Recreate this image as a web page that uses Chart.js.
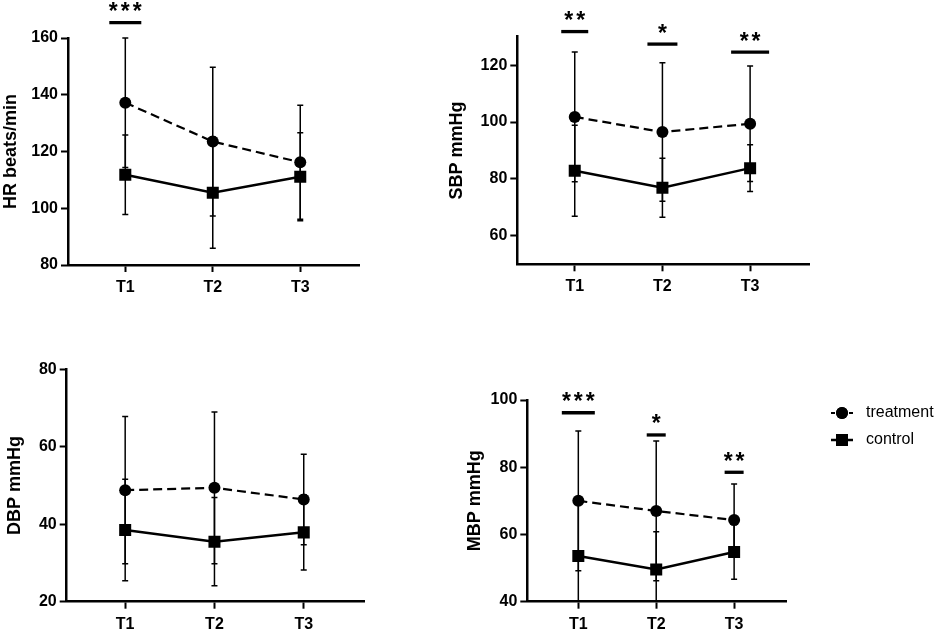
<!DOCTYPE html>
<html>
<head>
<meta charset="utf-8">
<script src="https://cdn.jsdelivr.net/npm/chart.js@4.4.1/dist/chart.umd.min.js"></script>
<style>
  body { margin: 0; background: #fff; }
  #wrap { position: relative; width: 935px; height: 632px; overflow: hidden; }
  canvas { position: absolute; }
</style>
</head>
<body>
<div id="wrap">
  <canvas id="hr"></canvas>
  <canvas id="sbp"></canvas>
  <canvas id="dbp"></canvas>
  <canvas id="mbp"></canvas>
</div>
<script>
// time points and series
const timepoints = ["T1", "T2", "T3"];
const seriesNames = ["treatment", "control"];

// HR beats/min (mean, SD)
const hrTreatment = [137.2, 123.5, 116.2];
const hrTreatmentSD = [22.8, 26.2, 20.1];
const hrControl = [111.8, 105.5, 111.1];
const hrControlSD = [14.0, 19.6, 15.5];
const hrTicks = [80, 100, 120, 140, 160];

// SBP mmHg
const sbpTreatment = [101.8, 96.5, 99.4];
const sbpTreatmentSD = [22.8, 24.3, 20.3];
const sbpControl = [82.9, 76.9, 83.8];
const sbpControlSD = [16.0, 10.4, 8.2];
const sbpTicks = [60, 80, 100, 120];

// DBP mmHg
const dbpTreatment = [48.8, 49.4, 46.4];
const dbpTreatmentSD = [19.0, 19.6, 11.7];
const dbpControl = [38.5, 35.5, 37.9];
const dbpControlSD = [13.1, 11.4, 9.7];
const dbpTicks = [20, 40, 60, 80];

// MBP mmHg
const mbpTreatment = [70.0, 67.0, 64.3];
const mbpTreatmentSD = [20.8, 20.8, 10.7];
const mbpControl = [53.6, 49.6, 54.8];
const mbpControlSD = [16.0, 11.2, 8.1];
const mbpTicks = [40, 60, 80, 100];

// significance marks per time point, and the level (axis units) of the bar
const hrStars = ["***", "", ""];
const hrStarLevel = [165.4, null, null];
const sbpStars = ["**", "*", "**"];
const sbpStarLevel = [131.8, 127.4, 124.6];
const dbpStars = ["", "", ""];
const dbpStarLevel = [null, null, null];
const mbpStars = ["***", "*", "**"];
const mbpStarLevel = [96.2, 89.6, 78.5];

const FONT = "'Liberation Sans', Arial, Helvetica, sans-serif";

const toPoints = vals => vals.map((v, i) => ({ x: i + 1, y: v }));

// error bars drawn through the scales
const errorBars = {
  id: "errorBars",
  beforeDatasetsDraw(chart) {
    const { ctx, chartArea, scales: { x, y } } = chart;
    ctx.save();
    ctx.beginPath();
    ctx.rect(chartArea.left, chartArea.top - 4, chartArea.width, chartArea.height + 4);
    ctx.clip();
    ctx.strokeStyle = "#000";
    ctx.lineWidth = 1.5;
    chart.data.datasets.forEach(ds => {
      ds.data.forEach((p, i) => {
        const sd = ds.errors[i];
        const px = x.getPixelForValue(p.x);
        const top = y.getPixelForValue(p.y + sd);
        const bot = y.getPixelForValue(p.y - sd);
        ctx.beginPath();
        ctx.moveTo(px, top); ctx.lineTo(px, bot);
        ctx.moveTo(px - 3, top); ctx.lineTo(px + 3, top);
        ctx.moveTo(px - 3, bot); ctx.lineTo(px + 3, bot);
        ctx.stroke();
      });
    });
    ctx.restore();
  }
};

// significance bars with asterisks
const sigMarks = {
  id: "sigMarks",
  afterDraw(chart, args, opts) {
    if (!opts.labels) return;
    const { ctx, scales: { x, y } } = chart;
    ctx.save();
    ctx.fillStyle = "#000";
    ctx.strokeStyle = "#000";
    ctx.font = "bold 23px " + FONT;
    ctx.textAlign = "center";
    ctx.textBaseline = "alphabetic";
    ctx.letterSpacing = "3px";
    opts.labels.forEach((lab, i) => {
      if (!lab) return;
      const px = x.getPixelForValue(i + 1);
      const py = y.getPixelForValue(opts.levels[i]);
      const hw = opts.widths[i] / 2;
      ctx.lineWidth = 3.3;
      ctx.beginPath();
      ctx.moveTo(px - hw, py); ctx.lineTo(px + hw, py);
      ctx.stroke();
      ctx.fillText(lab, px + 1.5, py - 3.5);
    });
    ctx.restore();
  }
};

// legend with line + marker, as in the figure
const sideLegend = {
  id: "sideLegend",
  afterDraw(chart, args, opts) {
    if (!opts.show) return;
    const { ctx } = chart;
    ctx.save();
    chart.data.datasets.forEach((ds, i) => {
      const cy = opts.y + i * opts.gap;
      ctx.strokeStyle = "#000";
      ctx.lineWidth = ds.borderWidth;
      ctx.setLineDash(ds.borderDash ? [4, 5] : []);
      ctx.beginPath();
      ctx.moveTo(opts.x, cy); ctx.lineTo(opts.x + 22, cy);
      ctx.stroke();
      ctx.setLineDash([]);
      Chart.helpers.drawPoint(ctx, {
        pointStyle: ds.pointStyle, radius: ds.pointRadius, borderWidth: 0
      }, opts.x + 11, cy);
      ctx.fill();
      ctx.fillStyle = "#000";
      ctx.font = "16px " + FONT;
      ctx.textBaseline = "middle";
      ctx.fillText(ds.label, opts.x + 35, cy);
    });
    ctx.restore();
  }
};

function makePanel(p) {
  const cv = document.getElementById(p.id);
  cv.width = p.w; cv.height = p.h;
  cv.style.left = p.left + "px";
  cv.style.top = p.top + "px";
  const axisGrid = { drawOnChartArea: false, tickLength: 7, tickWidth: 2, tickColor: "#000" };
  const axisBorder = { color: "#000", width: 2.5 };
  return new Chart(cv, {
    type: "line",
    data: {
      datasets: [
        {
          label: seriesNames[0],
          data: toPoints(p.treatment),
          errors: p.treatmentSD,
          borderColor: "#000",
          backgroundColor: "#000",
          borderWidth: 2.2,
          borderDash: [9, 5],
          pointStyle: "circle",
          pointRadius: 6,
          pointBorderWidth: 0,
          pointBackgroundColor: "#000"
        },
        {
          label: seriesNames[1],
          data: toPoints(p.control),
          errors: p.controlSD,
          borderColor: "#000",
          backgroundColor: "#000",
          borderWidth: 2.5,
          pointStyle: "rect",
          pointRadius: 8.5,
          pointBorderWidth: 0,
          pointBackgroundColor: "#000"
        }
      ]
    },
    options: {
      responsive: false,
      animation: false,
      layout: { padding: { left: 0, top: p.padTop, right: p.padRight, bottom: 0 } },
      plugins: {
        legend: { display: false },
        tooltip: { enabled: false },
        sigMarks: { labels: p.stars, levels: p.starLevels, widths: p.starWidths },
        sideLegend: p.legend || { show: false }
      },
      scales: {
        x: {
          type: "linear",
          min: 0.345,
          max: 3.675,
          afterBuildTicks: s => { s.ticks = timepoints.map((_, i) => ({ value: i + 1 })); },
          afterFit: s => { s.height = p.xH; },
          ticks: {
            callback: (v, i) => timepoints[i],
            color: "#000",
            font: { family: FONT, size: 16, weight: "bold" },
            padding: 6,
            maxRotation: 0
          },
          grid: axisGrid,
          border: axisBorder
        },
        y: {
          min: p.min,
          max: p.max,
          afterBuildTicks: s => { s.ticks = p.ticks.map(v => ({ value: v })); },
          afterFit: s => { s.width = p.yW; },
          ticks: {
            color: "#000",
            font: { family: FONT, size: 16, weight: "bold" },
            padding: 3
          },
          grid: axisGrid,
          border: axisBorder,
          title: {
            display: true,
            text: p.title,
            color: "#000",
            font: { family: FONT, size: 18, weight: "bold" },
            padding: 0
          }
        }
      }
    },
    plugins: [errorBars, sigMarks, sideLegend]
  });
}

makePanel({
  id: "hr", left: 0, top: 0, w: 380, h: 300,
  yW: 68, padTop: 38, padRight: 20.7, xH: 35,
  title: "HR beats/min", min: 80, max: 160, ticks: hrTicks,
  treatment: hrTreatment, treatmentSD: hrTreatmentSD,
  control: hrControl, controlSD: hrControlSD,
  stars: hrStars, starLevels: hrStarLevel, starWidths: [32, 0, 0]
});

makePanel({
  id: "sbp", left: 446, top: 0, w: 384, h: 300,
  yW: 71.3, padTop: 36.7, padRight: 20.7, xH: 35.7,
  title: "SBP mmHg", min: 50, max: 130, ticks: sbpTicks,
  treatment: sbpTreatment, treatmentSD: sbpTreatmentSD,
  control: sbpControl, controlSD: sbpControlSD,
  stars: sbpStars, starLevels: sbpStarLevel, starWidths: [27, 30, 38]
});

makePanel({
  id: "dbp", left: 4, top: 320, w: 380, h: 312,
  yW: 62.7, padTop: 49.3, padRight: 20, xH: 30.3,
  title: "DBP mmHg", min: 20, max: 80, ticks: dbpTicks,
  treatment: dbpTreatment, treatmentSD: dbpTreatmentSD,
  control: dbpControl, controlSD: dbpControlSD,
  stars: dbpStars, starLevels: dbpStarLevel, starWidths: [0, 0, 0]
});

makePanel({
  id: "mbp", left: 464, top: 320, w: 471, h: 312,
  yW: 63.3, padTop: 80, padRight: 148.3, xH: 30.3,
  title: "MBP mmHg", min: 40, max: 100, ticks: mbpTicks,
  treatment: mbpTreatment, treatmentSD: mbpTreatmentSD,
  control: mbpControl, controlSD: mbpControlSD,
  stars: mbpStars, starLevels: mbpStarLevel, starWidths: [33, 19, 19],
  legend: { show: true, x: 367, y: 93, gap: 27 }
});
</script>
</body>
</html>
